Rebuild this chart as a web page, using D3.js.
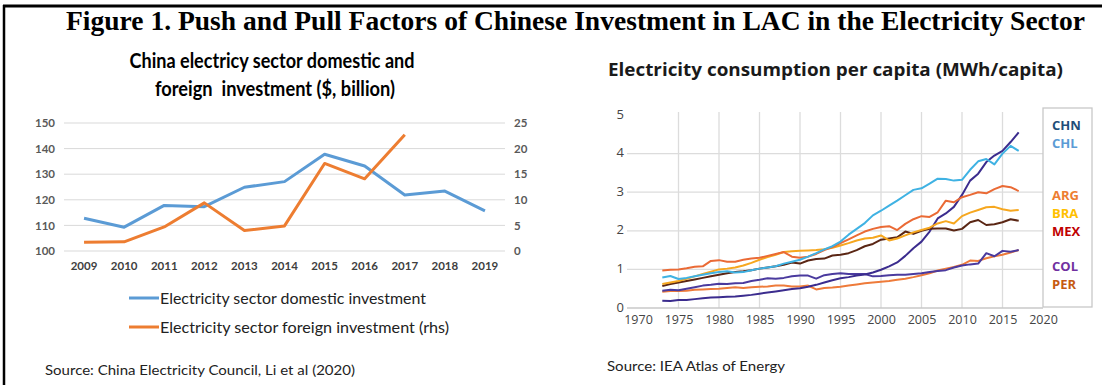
<!DOCTYPE html>
<html>
<head>
<meta charset="utf-8">
<script src="https://cdn.jsdelivr.net/npm/d3@7"></script>
<style>
  body { margin: 0; background: #fff; }
  svg { display: block; }
</style>
</head>
<body>
<svg id="fig" width="1102" height="385"></svg>
<script>
// ---- left chart data ----
const invYears = ['2009','2010','2011','2012','2013','2014','2015','2016','2017','2018','2019'];
const domestic = [112.8,109.3,117.8,117.3,124.9,127.1,137.8,133.2,121.9,123.4,115.7];
const foreign  = [1.7,1.8,4.7,9.4,4.0,4.9,17.1,14.1,22.7];
const leftTicks = [100,110,120,130,140,150];
const rightTicks = [0,5,10,15,20,25];

// ---- right chart data (1973-2017) ----
const consYears = d3.range(1973, 2018);
const CHN = [0.19,0.18,0.21,0.21,0.23,0.25,0.27,0.28,0.29,0.30,0.32,0.34,0.37,0.40,0.43,0.46,0.49,0.51,0.55,0.60,0.66,0.72,0.77,0.80,0.84,0.87,0.92,0.99,1.08,1.18,1.35,1.55,1.72,1.98,2.32,2.45,2.62,2.93,3.30,3.48,3.78,3.95,4.07,4.30,4.55];
const CHL = [0.79,0.83,0.75,0.78,0.82,0.86,0.90,0.93,0.95,0.92,0.93,0.98,1.02,1.05,1.08,1.15,1.20,1.25,1.33,1.42,1.52,1.60,1.72,1.90,2.05,2.20,2.40,2.52,2.65,2.78,2.92,3.06,3.10,3.22,3.35,3.34,3.30,3.32,3.58,3.80,3.86,3.72,4.00,4.20,4.07];
const ARG = [0.97,0.99,1.00,1.03,1.07,1.08,1.22,1.24,1.20,1.20,1.25,1.28,1.30,1.35,1.40,1.45,1.33,1.30,1.33,1.40,1.50,1.58,1.68,1.78,1.88,1.98,2.05,2.10,2.12,2.02,2.18,2.30,2.38,2.36,2.48,2.78,2.74,2.87,2.93,3.00,2.97,3.08,3.16,3.13,3.03];
const BRA = [0.62,0.66,0.70,0.76,0.82,0.88,0.94,1.00,1.02,1.05,1.10,1.17,1.25,1.32,1.38,1.45,1.47,1.48,1.49,1.50,1.52,1.56,1.62,1.68,1.75,1.80,1.82,1.88,1.75,1.80,1.88,1.96,2.02,2.08,2.19,2.25,2.19,2.38,2.47,2.54,2.61,2.62,2.56,2.52,2.54];
const MEX = [0.57,0.62,0.66,0.70,0.74,0.78,0.82,0.86,0.90,0.93,0.95,0.98,1.02,1.05,1.08,1.12,1.18,1.15,1.23,1.27,1.28,1.36,1.38,1.42,1.50,1.60,1.66,1.77,1.80,1.83,1.98,1.92,2.00,2.05,2.06,2.06,2.01,2.05,2.22,2.28,2.15,2.17,2.22,2.30,2.26];
const COL = [0.45,0.47,0.46,0.50,0.54,0.58,0.60,0.63,0.62,0.64,0.65,0.70,0.73,0.77,0.76,0.78,0.82,0.84,0.84,0.76,0.85,0.88,0.90,0.88,0.88,0.88,0.82,0.83,0.85,0.86,0.86,0.88,0.90,0.93,0.96,0.98,1.05,1.10,1.13,1.15,1.42,1.34,1.48,1.46,1.50];
const PER = [0.42,0.44,0.44,0.45,0.47,0.48,0.49,0.50,0.52,0.54,0.52,0.54,0.55,0.56,0.58,0.58,0.56,0.56,0.58,0.48,0.52,0.53,0.55,0.58,0.61,0.64,0.66,0.68,0.70,0.73,0.76,0.80,0.85,0.90,0.97,1.02,1.06,1.12,1.23,1.22,1.29,1.34,1.38,1.44,1.50];
const consTicksY = [0,1,2,3,4,5];
const consTicksX = [1970,1975,1980,1985,1990,1995,2000,2005,2010,2015,2020];

const series = [
  {name:'CHN', vals:CHN, line:'#3b2c8e', label:'#1f4e79'},
  {name:'CHL', vals:CHL, line:'#3fb2e3', label:'#5b9bd5'},
  {name:'ARG', vals:ARG, line:'#ea6a35', label:'#ed7d31'},
  {name:'BRA', vals:BRA, line:'#f6a71f', label:'#ffc000'},
  {name:'MEX', vals:MEX, line:'#5a2614', label:'#c00000'},
  {name:'COL', vals:COL, line:'#4a3a9e', label:'#7030a0'},
  {name:'PER', vals:PER, line:'#ee7b3a', label:'#c55a11'}
];
// draw order (back to front)
const drawOrder = ['PER','COL','CHN','MEX','BRA','ARG','CHL'];
const legendY = {CHN:125, CHL:143, ARG:195, BRA:213, MEX:231, COL:266, PER:284};

const svg = d3.select('#fig');
const sans = "Lato, 'Open Sans', sans-serif";
const narrow = "'Liberation Sans Narrow', Lato, sans-serif";

// frame
svg.append('line').attr('x1',3).attr('x2',1102).attr('y1',6).attr('y2',6)
  .attr('stroke','#000').attr('stroke-width',3);
svg.append('line').attr('x1',4).attr('x2',4).attr('y1',5).attr('y2',385)
  .attr('stroke','#000').attr('stroke-width',2.5);

// main title
svg.append('text').attr('x',66).attr('y',30)
  .attr('font-family',"'Liberation Serif', serif").attr('font-weight','bold').attr('font-size',27)
  .attr('textLength',1019).attr('lengthAdjust','spacingAndGlyphs')
  .text('Figure 1. Push and Pull Factors of Chinese Investment in LAC in the Electricity Sector');

// ================= left chart =================
const L = svg.append('g');
L.append('text').attr('x',272).attr('y',68).attr('text-anchor','middle')
  .attr('font-family',sans).attr('font-weight','bold').attr('font-size',20)
  .attr('textLength',285).attr('lengthAdjust','spacingAndGlyphs')
  .text('China electricy sector domestic and');
L.append('text').attr('x',275).attr('y',96).attr('text-anchor','middle')
  .attr('font-family',sans).attr('font-weight','bold').attr('font-size',20)
  .attr('textLength',240).attr('lengthAdjust','spacingAndGlyphs')
  .attr('xml:space','preserve')
  .text('foreign  investment ($, billion)');

const xL = d3.scaleBand().domain(invYears).range([64,505]);
const yL = d3.scaleLinear().domain([100,150]).range([251,123]);
const yR = d3.scaleLinear().domain([0,25]).range([251,123]);

L.append('g').selectAll('line').data(leftTicks).join('line')
  .attr('x1',64).attr('x2',505).attr('y1',d=>yL(d)).attr('y2',d=>yL(d))
  .attr('stroke','#d9d9d9').attr('stroke-width',1);

L.append('g').attr('transform','translate(55,0)')
  .call(d3.axisLeft(yL).tickValues(leftTicks).tickSize(0).tickPadding(0))
  .call(g=>g.select('.domain').remove())
  .call(g=>g.selectAll('text').attr('font-family',sans).attr('font-size',11.5).attr('font-weight','bold').attr('fill','#595959'));
L.append('g').attr('transform','translate(514,0)')
  .call(d3.axisRight(yR).tickValues(rightTicks).tickSize(0).tickPadding(0))
  .call(g=>g.select('.domain').remove())
  .call(g=>g.selectAll('text').attr('font-family',sans).attr('font-size',11.5).attr('font-weight','bold').attr('fill','#595959'));
L.append('g').attr('transform','translate(0,256)')
  .call(d3.axisBottom(xL).tickSize(0).tickPadding(6))
  .call(g=>g.select('.domain').remove())
  .call(g=>g.selectAll('text').attr('font-family',sans).attr('font-size',11.5).attr('font-weight','bold').attr('fill','#404040'));

const cx = d => xL(d) + xL.bandwidth()/2;
L.append('path').datum(invYears.map((y,i)=>[y,domestic[i]]))
  .attr('fill','none').attr('stroke','#5b9bd5').attr('stroke-width',3).attr('stroke-linejoin','round')
  .attr('d', d3.line().x(d=>cx(d[0])).y(d=>yL(d[1])));
L.append('path').datum(foreign.map((v,i)=>[invYears[i],v]))
  .attr('fill','none').attr('stroke','#ed7d31').attr('stroke-width',3).attr('stroke-linejoin','round')
  .attr('d', d3.line().x(d=>cx(d[0])).y(d=>yR(d[1])));

// legend
const legL = [
  {t:'Electricity sector domestic investment', c:'#5b9bd5', y:298, w:266},
  {t:'Electricity sector foreign investment (rhs)', c:'#ed7d31', y:327, w:289}
];
legL.forEach(d=>{
  L.append('line').attr('x1',129).attr('x2',159).attr('y1',d.y).attr('y2',d.y)
    .attr('stroke',d.c).attr('stroke-width',3);
  L.append('text').attr('x',160).attr('y',d.y+6).attr('font-family',narrow).attr('font-size',16)
    .attr('fill','#222').attr('textLength',d.w).attr('lengthAdjust','spacingAndGlyphs').text(d.t);
});
L.append('text').attr('x',45).attr('y',375).attr('font-family',narrow).attr('font-size',14)
  .attr('fill','#222').attr('textLength',310).attr('lengthAdjust','spacingAndGlyphs')
  .text('Source: China Electricity Council, Li et al (2020)');

// ================= right chart =================
const R = svg.append('g');
R.append('text').attr('x',608).attr('y',76)
  .attr('font-family',"'Open Sans', sans-serif").attr('font-weight','bold').attr('font-size',17)
  .attr('fill','#1a1a1a').attr('textLength',455).attr('lengthAdjust','spacingAndGlyphs')
  .text('Electricity consumption per capita (MWh/capita)');

const xC = d3.scaleLinear().domain([1970,2020]).range([638,1043]);
const yC = d3.scaleLinear().domain([0,5]).range([308,115]);

R.append('g').selectAll('line').data(consTicksX.filter(d=>d>1970 && d<2020)).join('line')
  .attr('x1',d=>xC(d)).attr('x2',d=>xC(d)).attr('y1',112).attr('y2',308)
  .attr('stroke','#dcdcdc').attr('stroke-width',1.3);
R.append('g').selectAll('line').data(consTicksY.filter(d=>d<5)).join('line')
  .attr('x1',627).attr('x2',1043).attr('y1',d=>yC(d)).attr('y2',d=>yC(d))
  .attr('stroke',d=>d===0?'#c8c8c8':'#dcdcdc').attr('stroke-width',1.3);

R.append('g').attr('transform','translate(624,-1)')
  .call(d3.axisLeft(yC).tickValues(consTicksY).tickFormat(d3.format('d')).tickSize(0).tickPadding(0))
  .call(g=>g.select('.domain').remove())
  .call(g=>g.selectAll('text').attr('font-family',"'Open Sans', sans-serif").attr('font-size',13).attr('fill','#444'));
R.append('g').attr('transform','translate(0,313)')
  .call(d3.axisBottom(xC).tickValues(consTicksX).tickFormat(d3.format('d')).tickSize(0).tickPadding(2))
  .call(g=>g.select('.domain').remove())
  .call(g=>g.selectAll('text').attr('font-family',"'Open Sans', sans-serif").attr('font-size',12.5).attr('fill','#444'));

const lineC = d3.line().x((d,i)=>xC(consYears[i])).y(d=>yC(d));
drawOrder.forEach(n=>{
  const s = series.find(e=>e.name===n);
  R.append('path').datum(s.vals).attr('fill','none').attr('stroke',s.line)
    .attr('stroke-width',2).attr('stroke-linejoin','round').attr('d',lineC);
});

// legend box
R.append('rect').attr('x',1043).attr('y',108).attr('width',49).attr('height',199)
  .attr('fill','#fff').attr('stroke','#c8c8c8').attr('stroke-width',1.3);
series.forEach(s=>{
  R.append('text').attr('x',1052).attr('y',legendY[s.name]+5)
    .attr('font-family',"'Open Sans', sans-serif").attr('font-weight','bold').attr('font-size',13)
    .attr('fill',s.label).text(s.name);
});

R.append('text').attr('x',607).attr('y',371).attr('font-family',narrow).attr('font-size',13)
  .attr('fill','#222').attr('textLength',178).attr('lengthAdjust','spacingAndGlyphs')
  .text('Source: IEA Atlas of Energy');
</script>
</body>
</html>
